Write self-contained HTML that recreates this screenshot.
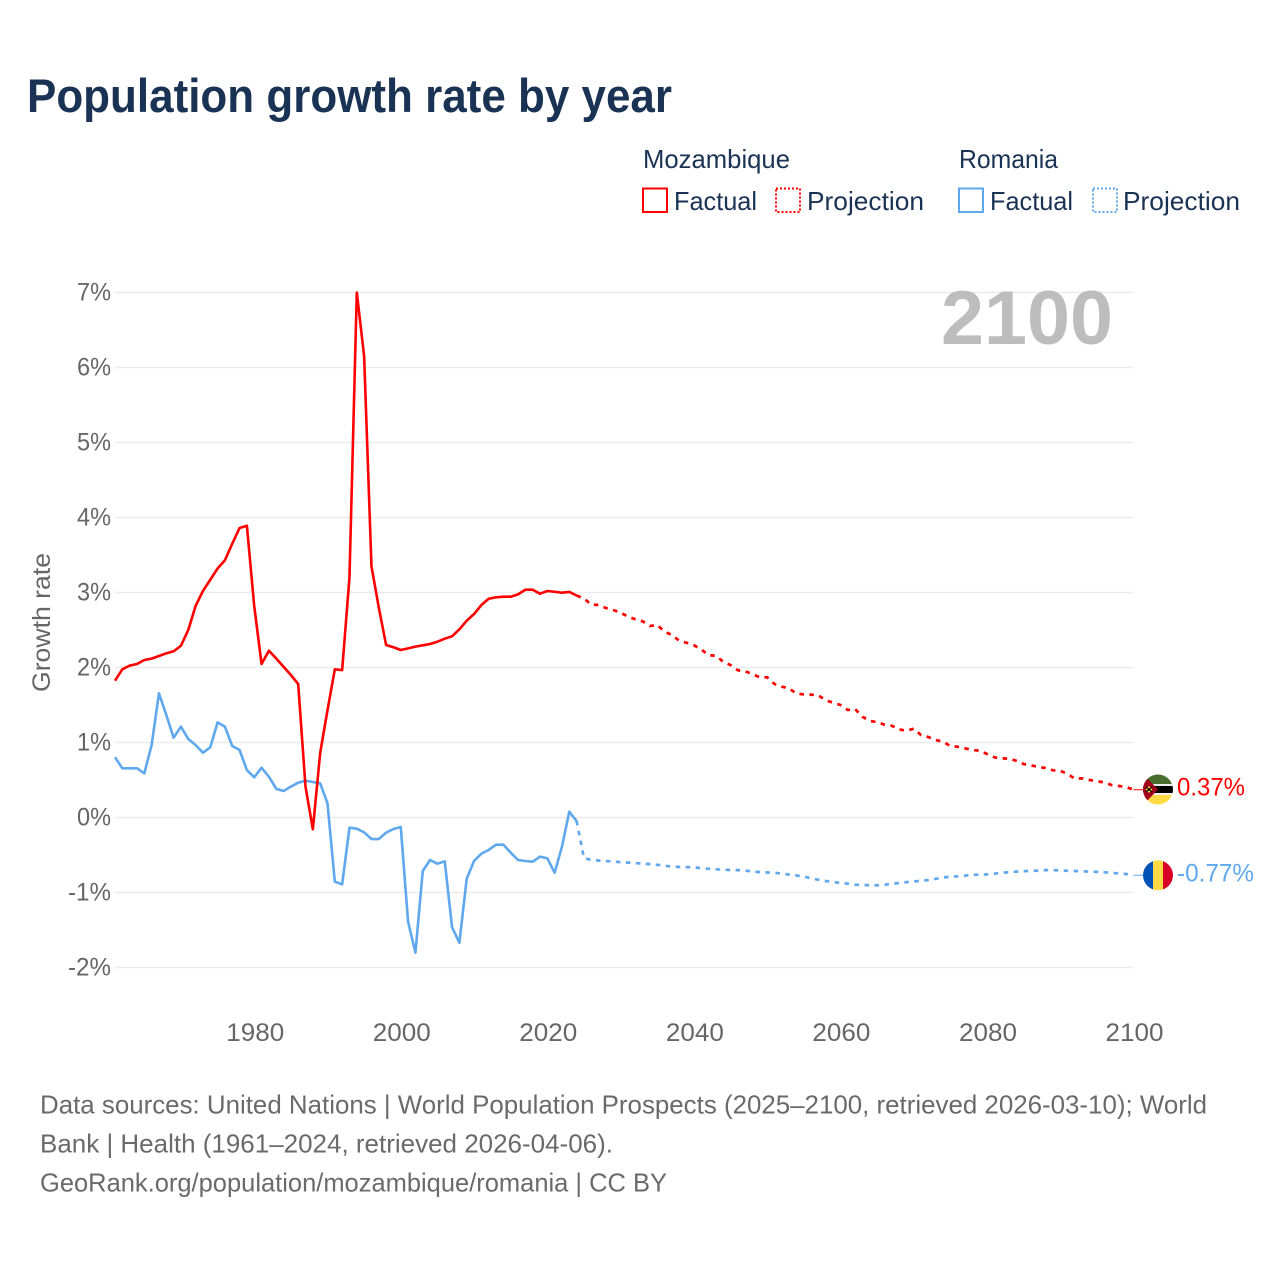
<!DOCTYPE html>
<html lang="en">
<head>
<meta charset="utf-8">
<title>Population growth rate by year</title>
<style>
html,body{margin:0;padding:0;background:#fff;}
svg{display:block;font-family:"Liberation Sans",sans-serif;}
</style>
</head>
<body>
<svg id="chart" xmlns="http://www.w3.org/2000/svg" width="1280" height="1280" viewBox="0 0 1280 1280">
  <defs>
    <clipPath id="flag-clip-moz"><circle cx="1158" cy="789.5" r="15"/></clipPath>
    <clipPath id="flag-clip-ro"><circle cx="1158" cy="875.3" r="15"/></clipPath>
  </defs>
  <rect x="0" y="0" width="1280" height="1280" fill="#fff"/>
  <text x="27" y="112" font-size="47" font-weight="bold" fill="#1a3354" textLength="645" lengthAdjust="spacingAndGlyphs">Population growth rate by year</text>

  <g font-size="26" fill="#1a3354">
    <text x="643" y="168" textLength="147" lengthAdjust="spacingAndGlyphs">Mozambique</text>
    <text x="959" y="168" textLength="99" lengthAdjust="spacingAndGlyphs">Romania</text>
    <rect x="643" y="188.5" width="24" height="23.5" fill="none" stroke="#ff0000" stroke-width="2"/>
    <text x="674" y="210" textLength="83" lengthAdjust="spacingAndGlyphs">Factual</text>
    <rect x="776" y="188.5" width="24" height="23.5" fill="none" stroke="#ff0000" stroke-width="2" stroke-dasharray="2 2"/>
    <text x="807" y="210" textLength="117" lengthAdjust="spacingAndGlyphs">Projection</text>
    <rect x="959" y="188.5" width="24" height="23.5" fill="none" stroke="#5fa8ee" stroke-width="2"/>
    <text x="990" y="210" textLength="83" lengthAdjust="spacingAndGlyphs">Factual</text>
    <rect x="1093" y="188.5" width="24" height="23.5" fill="none" stroke="#5fa8ee" stroke-width="2" stroke-dasharray="2 2"/>
    <text x="1123" y="210" textLength="117" lengthAdjust="spacingAndGlyphs">Projection</text>
  </g>

  <g id="grid"></g>
  <g id="y-ticks"></g>
  <g id="x-ticks"></g>
  <text transform="translate(50,692) rotate(-90)" font-size="25" fill="#666" textLength="139" lengthAdjust="spacingAndGlyphs">Growth rate</text>
  <text x="941" y="344" font-size="76" font-weight="bold" fill="#bdbdbd" textLength="172" lengthAdjust="spacingAndGlyphs">2100</text>

  <g id="series"></g>

  <g clip-path="url(#flag-clip-moz)">
    <rect x="1143" y="774" width="30" height="11" fill="#496e2d"/>
    <rect x="1143" y="784" width="30" height="2" fill="#f0f0f0"/>
    <rect x="1143" y="786" width="30" height="7" fill="#000"/>
    <rect x="1143" y="793" width="30" height="2" fill="#f0f0f0"/>
    <rect x="1143" y="795" width="30" height="10" fill="#ffda44"/>
    <polygon points="1143,774 1158,789.5 1143,805" fill="#a2001d"/>
    <circle cx="1149" cy="789.5" r="3" fill="#ffda44"/>
    <path d="M1146 787l6 5M1152 787l-6 5" stroke="#000" stroke-width="1.4"/>
  </g>
  <g clip-path="url(#flag-clip-ro)">
    <rect x="1143" y="860" width="10" height="31" fill="#0052b4"/>
    <rect x="1153" y="860" width="10" height="31" fill="#ffda44"/>
    <rect x="1163" y="860" width="10" height="31" fill="#d80027"/>
  </g>
  <text id="label-moz" x="1177" y="795.5" font-size="25" fill="#ff0000" textLength="68" lengthAdjust="spacingAndGlyphs"></text>
  <text id="label-ro" x="1177" y="881.5" font-size="25" fill="#5fa8ee" textLength="77" lengthAdjust="spacingAndGlyphs"></text>

  <g font-size="26" fill="#6a6a6a">
    <text x="40" y="1113.5" textLength="1167" lengthAdjust="spacingAndGlyphs">Data sources: United Nations | World Population Prospects (2025–2100, retrieved 2026-03-10); World</text>
    <text x="40" y="1152.5" textLength="573" lengthAdjust="spacingAndGlyphs">Bank | Health (1961–2024, retrieved 2026-04-06).</text>
    <text x="40" y="1191.5" textLength="627" lengthAdjust="spacingAndGlyphs">GeoRank.org/population/mozambique/romania | CC BY</text>
  </g>
</svg>
<script>
const startYear = 1961;
const endYear = 2100;
const projectionStartYear = 2024;
const yTickValues = [-2, -1, 0, 1, 2, 3, 4, 5, 6, 7];
const yTickLabels = ['-2%', '-1%', '0%', '1%', '2%', '3%', '4%', '5%', '6%', '7%'];
const xTickValues = [1980, 2000, 2020, 2040, 2060, 2080, 2100];
const xTickLabels = ['1980', '2000', '2020', '2040', '2060', '2080', '2100'];
const mozambiqueEndLabel = '0.37%';
const romaniaEndLabel = '-0.77%';

// Mozambique, 1961-2024
const mozambiqueFactual = [
  1.824, 1.976, 2.025, 2.047, 2.10, 2.118, 2.153, 2.189, 2.216, 2.29,
  2.50, 2.82, 3.02, 3.17, 3.32, 3.43, 3.65, 3.86, 3.89, 2.82,
  2.047, 2.224, 2.12, 2.01, 1.90, 1.78, 0.41, -0.157, 0.86, 1.43,
  1.976, 1.965, 3.20, 7.00, 6.15, 3.35, 2.80, 2.30, 2.27, 2.233,
  2.255, 2.278, 2.296, 2.313, 2.344, 2.384, 2.416, 2.509, 2.624, 2.713,
  2.833, 2.917, 2.936, 2.944, 2.944, 2.975, 3.037, 3.037, 2.984, 3.02,
  3.01, 2.997, 3.007, 2.96
];
// Mozambique, 2024-2100
const mozambiqueProjection = [
  2.96, 2.92, 2.84, 2.833, 2.793, 2.767, 2.73, 2.68, 2.643, 2.616,
  2.553, 2.567, 2.478, 2.433, 2.357, 2.33, 2.296, 2.243, 2.163, 2.157,
  2.077, 2.033, 1.963, 1.949, 1.913, 1.869, 1.869, 1.78, 1.744, 1.722,
  1.651, 1.642, 1.638, 1.629, 1.562, 1.531, 1.50, 1.433, 1.447, 1.344,
  1.287, 1.273, 1.238, 1.224, 1.176, 1.157, 1.184, 1.10, 1.073, 1.033,
  1.011, 0.953, 0.944, 0.922, 0.90, 0.891, 0.847, 0.802, 0.789, 0.784,
  0.757, 0.713, 0.696, 0.673, 0.66, 0.629, 0.624, 0.58, 0.517, 0.522,
  0.50, 0.483, 0.469, 0.433, 0.42, 0.407, 0.37
];
// Romania, 1961-2024
const romaniaFactual = [
  0.803, 0.656, 0.656, 0.656, 0.589, 0.967, 1.656, 1.367, 1.064, 1.211,
  1.047, 0.967, 0.864, 0.936, 1.269, 1.211, 0.953, 0.90, 0.633, 0.536,
  0.664, 0.544, 0.384, 0.353, 0.411, 0.464, 0.491, 0.473, 0.456, 0.189,
  -0.856, -0.891, -0.136, -0.149, -0.198, -0.287, -0.287, -0.202, -0.153, -0.127,
  -1.389, -1.802, -0.713, -0.567, -0.616, -0.584, -1.464, -1.669, -0.816, -0.58,
  -0.482, -0.433, -0.362, -0.362, -0.469, -0.567, -0.58, -0.589, -0.522, -0.544,
  -0.736, -0.389, 0.078, -0.047
];
// Romania, 2024-2100
const romaniaProjection = [
  -0.047, -0.54, -0.567, -0.573, -0.58, -0.587, -0.596, -0.602, -0.607, -0.616,
  -0.622, -0.631, -0.642, -0.656, -0.658, -0.662, -0.664, -0.676, -0.684, -0.691,
  -0.696, -0.70, -0.702, -0.709, -0.718, -0.729, -0.733, -0.736, -0.749, -0.76,
  -0.773, -0.789, -0.811, -0.829, -0.847, -0.86, -0.873, -0.882, -0.896, -0.90,
  -0.902, -0.904, -0.898, -0.884, -0.873, -0.862, -0.853, -0.844, -0.833, -0.818,
  -0.80, -0.789, -0.784, -0.776, -0.764, -0.762, -0.758, -0.749, -0.738, -0.729,
  -0.722, -0.716, -0.711, -0.709, -0.702, -0.702, -0.704, -0.711, -0.713, -0.716,
  -0.722, -0.724, -0.731, -0.736, -0.747, -0.753, -0.77
];

const SVG_NS = 'http://www.w3.org/2000/svg';
function xScale(year) { return 115 + (year - startYear) * (1133.5 - 115) / (endYear - startYear); }
function yScale(value) { return 817.5 - value * 75; }
function make(tag, parent, attrs) {
  const el = document.createElementNS(SVG_NS, tag);
  Object.keys(attrs).forEach(function (k) { el.setAttribute(k, attrs[k]); });
  parent.appendChild(el);
  return el;
}
function linePath(values, firstYear) {
  return values.map(function (v, i) {
    return (i ? 'L' : 'M') + xScale(firstYear + i).toFixed(2) + ' ' + yScale(v).toFixed(2);
  }).join('');
}

const gridGroup = document.getElementById('grid');
const yTickGroup = document.getElementById('y-ticks');
const xTickGroup = document.getElementById('x-ticks');
const seriesGroup = document.getElementById('series');

yTickValues.forEach(function (v, i) {
  const line = make('line', gridGroup, { x1: xScale(startYear), x2: xScale(endYear), y1: yScale(v), y2: yScale(v), stroke: '#ececec', 'stroke-width': 1.6 });
  
  
  const label = make('text', yTickGroup, { x: 111, y: yScale(v) + 8, 'text-anchor': 'end', 'font-size': 25, fill: '#666', textLength: v < 0 ? 43 : 34, lengthAdjust: 'spacingAndGlyphs' });
  
  
  label.textContent = yTickLabels[i];
});

xTickValues.forEach(function (year, i) {
  const label = make('text', xTickGroup, { x: xScale(year) + 1, y: 1041, 'text-anchor': 'middle', 'font-size': 25, fill: '#666', textLength: 58, lengthAdjust: 'spacingAndGlyphs' });
  
  
  label.textContent = xTickLabels[i];
});

const redColor = '#ff0000';
const blueColor = '#5fa8ee';

const roProj = make('path', seriesGroup, { d: linePath(romaniaProjection, projectionStartYear), fill: 'none', stroke: blueColor, 'stroke-width': 2.7, 'stroke-dasharray': '4.5 5.5' });



const roFact = make('path', seriesGroup, { d: linePath(romaniaFactual, startYear), fill: 'none', stroke: blueColor, 'stroke-width': 2.6, 'stroke-linejoin': 'round' });



const mozProj = make('path', seriesGroup, { d: linePath(mozambiqueProjection, projectionStartYear), fill: 'none', stroke: redColor, 'stroke-width': 2.7, 'stroke-dasharray': '4.5 5.5' });



const mozFact = make('path', seriesGroup, { d: linePath(mozambiqueFactual, startYear), fill: 'none', stroke: redColor, 'stroke-width': 2.6, 'stroke-linejoin': 'round' });



const mozEnd = mozambiqueProjection[mozambiqueProjection.length - 1];
const roEnd = romaniaProjection[romaniaProjection.length - 1];

const mozLeader = make('line', seriesGroup, { x1: xScale(endYear), x2: 1143, y1: yScale(mozEnd), y2: yScale(mozEnd), stroke: redColor, 'stroke-width': 1 });



const roLeader = make('line', seriesGroup, { x1: xScale(endYear), x2: 1143, y1: yScale(roEnd), y2: yScale(roEnd), stroke: blueColor, 'stroke-width': 1 });



document.getElementById('label-moz').textContent = mozambiqueEndLabel;
document.getElementById('label-ro').textContent = romaniaEndLabel;
</script>
</body>
</html>
